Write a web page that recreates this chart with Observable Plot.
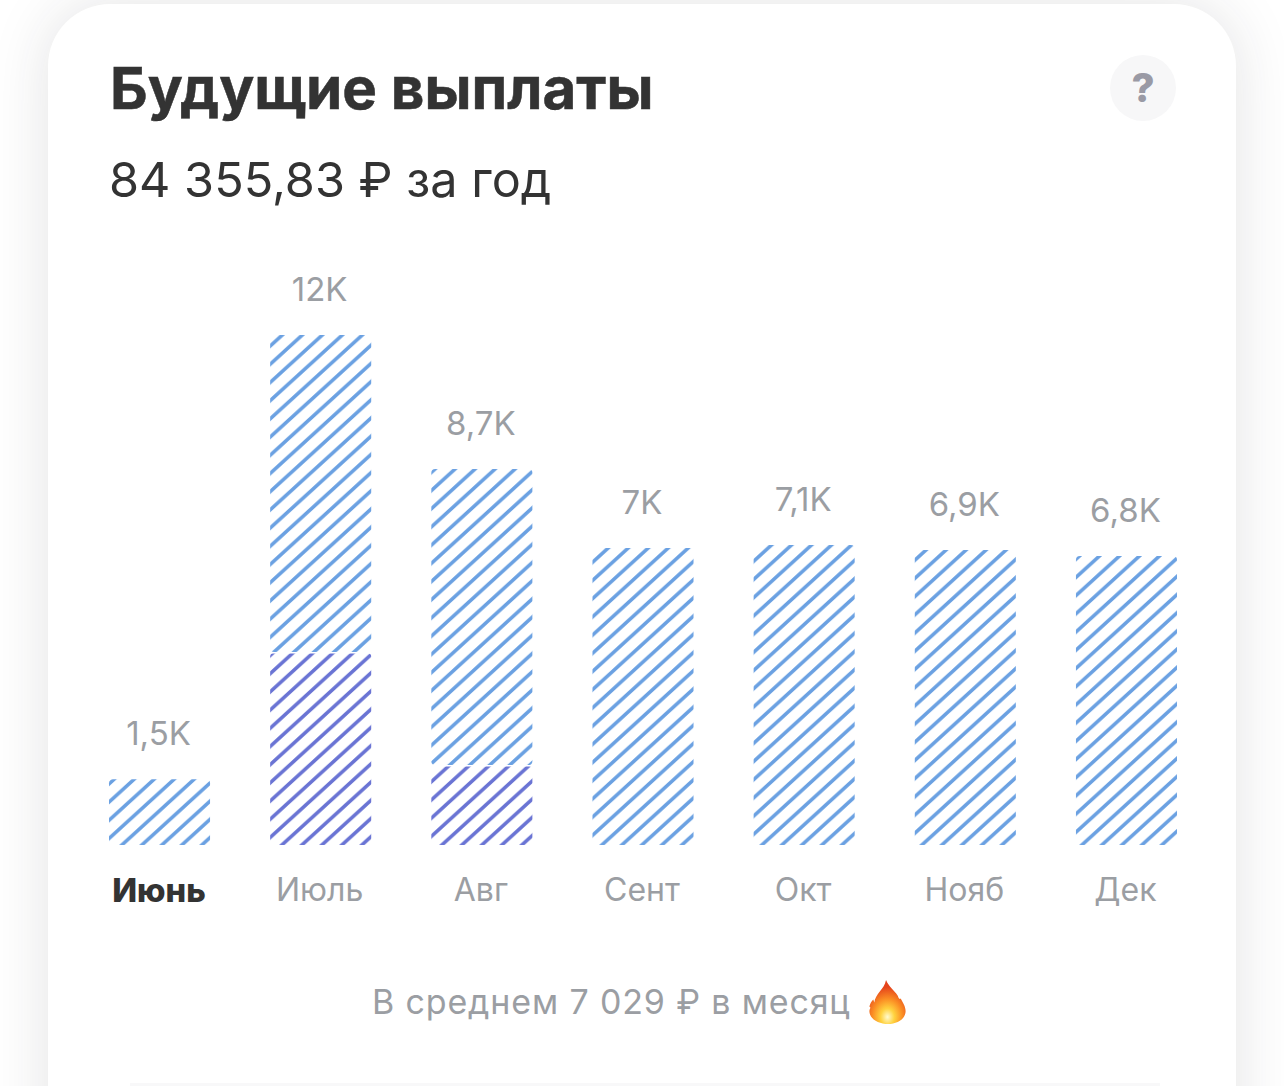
<!DOCTYPE html>
<html lang="ru">
<head>
<meta charset="utf-8">
<script src="https://cdn.jsdelivr.net/npm/d3@7"></script>
<script src="https://cdn.jsdelivr.net/npm/@observablehq/plot@0.6"></script>
<style>
html,body{margin:0;padding:0;background:#fff;overflow:hidden;width:1284px;height:1086px}
body{position:relative;font-family:Inter,"Noto Sans",sans-serif}
#shade{position:absolute;left:48px;top:4px;width:1188px;height:1200px;border-radius:62px;background:#fff;box-shadow:0 0 60px rgba(40,40,50,.13)}
#strip{position:absolute;left:130px;top:1083px;width:1030px;height:3px;background:#f8f8f9}
#title{position:absolute;left:110px;top:56px;font-size:58.3px;line-height:64px;font-weight:700;color:#333;white-space:nowrap;-webkit-text-stroke:.5px #333}
#sub{position:absolute;left:109px;top:150px;font-size:48.6px;line-height:60px;font-weight:400;color:#333;white-space:nowrap}
#help{position:absolute;left:1110px;top:55px;width:66px;height:66px;border-radius:50%;background:#f7f7f8;color:#9a9aa5;font-size:40px;font-weight:800;line-height:66px;text-align:center}
#chart{position:absolute;left:0;top:250px}
#foot{position:absolute;left:372px;top:980px;font-size:34px;line-height:44px;color:#9b9ea3;white-space:nowrap;letter-spacing:.85px}
#fire{position:absolute;left:867px;top:979px;width:41px;height:46px}
</style>
</head>
<body>
<div id="shade"></div>
<div id="strip"></div>
<div id="title">Будущие выплаты</div>
<div id="sub">84 355,83 ₽ за год</div>
<div id="help">?</div>
<div id="chart"></div>
<div id="foot">В среднем 7 029 ₽ в месяц</div>
<svg id="fire" viewBox="0 0 41 47" role="img" aria-label="🔥">
  <defs>
    <radialGradient id="fl" cx="50%" cy="84%" r="68%">
      <stop offset="0" stop-color="#fffbd0"/><stop offset=".28" stop-color="#ffd23f"/>
      <stop offset=".6" stop-color="#fb8f24"/><stop offset="1" stop-color="#e5431b"/>
    </radialGradient>
  </defs>
  <path fill="url(#fl)" d="M19 1c3 7 8 10 12 16 1 3 2 4 3 3 2 4 5 8 5 13 0 8-9 13-18 13S2 41 2 33c0-2 1-3 1-4l-1-1c1-3 2-5 4-7l1 3c1-9 10-13 12-23z"/>
</svg>
<script>
const months = ["Июнь","Июль","Авг","Сент","Окт","Нояб","Дек"];
const totals = [1550,12000,8850,6990,7060,6940,6800];
const received = [0,4540,1880,0,0,0,0];
const labels = ["1,5K","12K","8,7K","7K","7,1K","6,9K","6,8K"];
const ink = "#9b9ea3";

const rows = months.map((month,i)=>({month,total:totals[i],low:received[i],label:labels[i]}));

function hatch(id,color){
  const p = d3.create("svg:pattern").attr("id",id).attr("patternUnits","userSpaceOnUse")
    .attr("width",20).attr("height",18.2).attr("patternTransform","translate(270,715)");
  p.append("path").attr("d","M-5,4.55 L5,-4.55 M-5,22.75 L25,-4.55 M15,22.75 L25,13.65")
    .attr("stroke",color).attr("stroke-width",3.6).attr("fill","none");
  return p.node();
}

const plot = Plot.plot({
  width:1284, height:680,
  marginLeft:109, marginRight:107, marginTop:85, marginBottom:85,
  style:{background:"transparent",fontFamily:"Inter, 'Noto Sans', sans-serif",overflow:"visible"},
  x:{domain:months,paddingInner:0.373,paddingOuter:0,round:false,label:null},
  y:{domain:[0,12000],axis:null},
  marks:[
    ()=>{const d=d3.create("svg:defs");d.append(()=>hatch("hBlue","#6ba1e2"));d.append(()=>hatch("hViolet","#6a74d4"));return d.node();},
    Plot.barY(rows,{x:"month",y1:"low",y2:"total",fill:"url(#hBlue)",rx:4}),
    Plot.barY(rows.filter(d=>d.low>0),{x:"month",y1:0,y2:"low",fill:"url(#hViolet)",insetTop:1.5,rx:3}),
    Plot.text(rows,{x:"month",y:"total",text:"label",dy:-45,dx:-1.5,fontSize:33,fill:ink,textAnchor:"middle"}),
    Plot.axisX(months.slice(0,1),{label:null,tickSize:0,tickPadding:33,dx:-1,fontSize:32.5,fontWeight:800,fill:"#333"}),
    Plot.axisX(months.slice(1),{label:null,tickSize:0,tickPadding:33,dx:-1.5,fontSize:32,fill:ink})
  ]
});
document.getElementById("chart").append(plot);
</script>
</body>
</html>
